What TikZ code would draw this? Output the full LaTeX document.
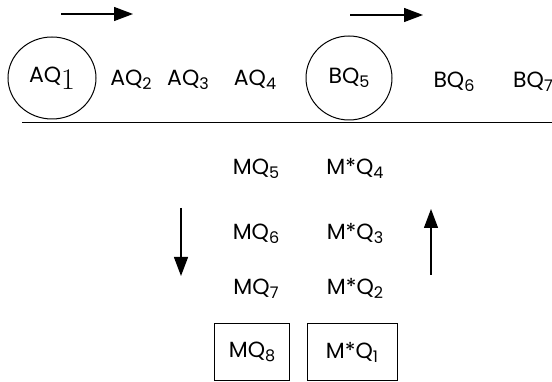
\documentclass[tikz,border=0pt]{standalone}
\usepackage{fontspec}
\setsansfont{Poppins}
\usetikzlibrary{shapes,arrows,arrows.meta,positioning,shapes.geometric}
\newcommand{\qs}[1]{\raisebox{-4pt}{\fontsize{16}{16}\selectfont #1}}

\begin{document}
\begin{tikzpicture}[x=1pt,y=-1pt,font=\sffamily\fontsize{22}{26}\selectfont]
\tikzstyle{ring} = [ellipse, draw, line width=1pt, inner sep=0pt]
\tikzstyle{label} = [anchor=base, inner sep=0pt]
\tikzstyle{box} = [rectangle, draw, line width=1pt, minimum width=75pt, minimum height=56pt]
\tikzstyle{line} = [draw, line width=1.3pt, -{Triangle[length=19pt,width=14pt]}]

\clip (0,0) rectangle (552,382);

% top row: A and B queues
\node [ring, minimum width=88pt, minimum height=82pt] (aq1) at (52,78) {AQ\raisebox{-7pt}{\rmfamily\fontsize{30}{30}\selectfont 1}};
\node [label] (aq2) at (131,86) {AQ\qs{2}};
\node [label] (aq3) at (188,86) {AQ\qs{3}};
\node [label] (aq4) at (255,86) {AQ\qs{4}};
\node [ring, minimum width=86pt, minimum height=84pt] (bq5) at (349,78) {BQ\qs{5}};
\node [label] (bq6) at (454,88) {BQ\qs{6}};
\node [label] (bq7) at (533,88) {BQ\qs{7}};

\coordinate (railL) at (22,123);
\coordinate (railR) at (552,123);
\draw [line width=1pt] (railL) -- (railR);

% direction arrows above
\coordinate (a1s) at (61,14);
\coordinate (a1e) at (133,14);
\coordinate (a2s) at (350,15);
\coordinate (a2e) at (423,15);
\draw [line] (a1s) -- (a1e);
\draw [line] (a2s) -- (a2e);

% M queues
\node [label] (mq5) at (256,175) {MQ\qs{5}};
\node [label] (mq6) at (256,240) {MQ\qs{6}};
\node [label] (mq7) at (256,295) {MQ\qs{7}};
\node [box] (mq8) at (252,352) {MQ\qs{8}};

\node [label] (ms4) at (355,175) {M*Q\qs{4}};
\node [label] (ms3) at (355,240) {M*Q\qs{3}};
\node [label] (ms2) at (355,295) {M*Q\qs{2}};
\node [box, minimum width=90pt] (ms1) at (352,352) {M*Q\qs{1}};

% side arrows
\coordinate (dTop) at (181,208);
\coordinate (dBot) at (181,276);
\coordinate (uBot) at (431,275);
\coordinate (uTop) at (431,209);
\draw [line] (dTop) -- (dBot);
\draw [line] (uBot) -- (uTop);

\end{tikzpicture}
\end{document}
